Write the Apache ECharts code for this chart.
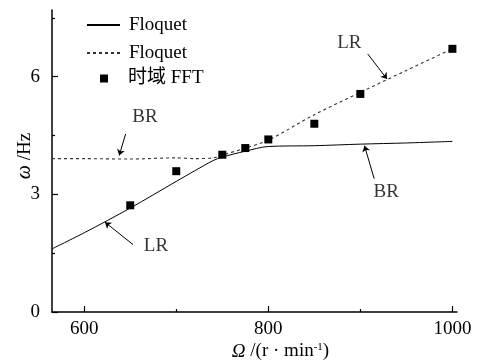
<!DOCTYPE html>
<html><head><meta charset="utf-8">
<script src="https://cdn.jsdelivr.net/npm/echarts@6/dist/echarts.min.js"></script>
<style>html,body{margin:0;padding:0;background:#fff}#c{width:479px;height:361px}</style>
</head><body><div id="c"></div>
<script>
// ---- data ----
const omega = [565, 600, 650, 700, 720, 740, 750, 775, 800, 850, 900, 950, 1000];
const floquetSolid = [1.61, 2.02, 2.65, 3.33, 3.60, 3.86, 3.95, 4.10, 4.22, 4.24, 4.28, 4.31, 4.35];
const floquetDashed = [3.91, 3.91, 3.90, 3.93, 3.91, 3.93, 4.00, 4.18, 4.38, 5.03, 5.60, 6.16, 6.71];
const fftOmega = [650, 700, 750, 775, 800, 850, 900, 1000];
const fftFreq = [2.72, 3.59, 4.01, 4.18, 4.40, 4.80, 5.56, 6.71];
const xTicks = [600, 800, 1000];
const xMinorTicks = [700, 900];
const yTicks = [0, 3, 6];
const yMinorTicks = [1.5, 4.5, 7.5];
const annotLabels = ['LR', 'BR', 'BR', 'LR'];
const annotTextAt = [[888, 6.86], [666, 4.96], [928, 3.05], [678, 1.67]];
const annotArrowFrom = [[908, 6.58], [645, 4.54], [915, 3.40], [653, 1.72]];
const annotArrowTo = [[929, 5.94], [638, 3.99], [904.5, 4.24], [622.5, 2.29]];

const FONT = '"Liberation Serif","Times New Roman","Noto Sans CJK SC",serif';
const zip = (a, b) => a.map((v, i) => [v, b[i]]);

const chart = echarts.init(document.getElementById('c'), null, {renderer: 'canvas'});
const axisLineStyle = {color: '#000', width: 1.5};
chart.setOption({
  animation: false,
  backgroundColor: '#fff',
  textStyle: {fontFamily: FONT},
  grid: {left: 52, right: 22, top: 10, bottom: 49, outerBoundsMode: 'none'},
  xAxis: [{
    type: 'value', min: 565, max: 1005,
    axisLine: {lineStyle: axisLineStyle},
    axisTick: {inside: true, length: 6, customValues: xTicks, lineStyle: {color: '#000', width: 1.2}},
    axisLabel: {customValues: xTicks, margin: 8, color: '#000', fontSize: 19, fontFamily: FONT, formatter: v => String(v)},
    splitLine: {show: false},
    name: '{i|Ω}{n| /(r · min}{s|-1}{n|)}',
    nameLocation: 'middle', nameGap: 30, nameMoveOverlap: false,
    nameTextStyle: {
      padding: [0, 0, 0, 52],
      rich: {
        i: {fontSize: 19, fontStyle: 'italic', fontFamily: FONT, color: '#000'},
        n: {fontSize: 19, fontFamily: FONT, color: '#000'},
        s: {fontSize: 11, fontFamily: FONT, color: '#000', verticalAlign: 'top'}
      }
    }
  }, {
    type: 'value', min: 565, max: 1005, position: 'bottom', gridIndex: 0,
    axisLine: {show: false},
    axisTick: {inside: true, length: 3, customValues: xMinorTicks, lineStyle: {color: '#000', width: 1.2}},
    axisLabel: {show: false}, splitLine: {show: false}
  }],
  yAxis: [{
    type: 'value', min: 0, max: 7.7,
    axisLine: {lineStyle: axisLineStyle},
    axisTick: {inside: true, length: 6, customValues: yTicks, lineStyle: {color: '#000', width: 1.2}},
    axisLabel: {customValues: yTicks, margin: 12, color: '#000', fontSize: 19, fontFamily: FONT, formatter: v => String(v)},
    splitLine: {show: false},
    name: '{i|ω}{n| /Hz}',
    nameLocation: 'middle', nameGap: 17, nameMoveOverlap: false,
    nameTextStyle: {
      padding: [0, 0, 0, 10],
      rich: {
        i: {fontSize: 20, fontStyle: 'italic', fontFamily: FONT, color: '#000'},
        n: {fontSize: 19, fontFamily: FONT, color: '#000'}
      }
    }
  }, {
    type: 'value', min: 0, max: 7.7, position: 'left', gridIndex: 0,
    axisLine: {show: false},
    axisTick: {inside: true, length: 3, customValues: yMinorTicks, lineStyle: {color: '#000', width: 1.2}},
    axisLabel: {show: false}, splitLine: {show: false}
  }],
  legend: [{
    data: ['Floquet1', 'Floquet2'],
    orient: 'vertical', left: 86, top: 15.5, padding: 0,
    itemWidth: 33, itemHeight: 8, itemGap: 9,
    itemStyle: {color: 'rgba(0,0,0,0)', borderColor: 'rgba(0,0,0,0)', borderWidth: 0, opacity: 0},
    formatter: () => 'Floquet',
    textStyle: {fontSize: 19, lineHeight: 19, fontFamily: FONT, color: '#000', padding: [0, 0, 0, 4]},
    selectedMode: false
  }, {
    data: ['时域 FFT'],
    orient: 'vertical', left: 100, top: 69, padding: 0,
    itemWidth: 8, itemHeight: 8, icon: 'rect',
    textStyle: {fontSize: 19, lineHeight: 19, fontFamily: FONT, color: '#000', padding: [0, 0, 0, 15]},
    selectedMode: false
  }],
  series: [{
    name: 'Floquet1', type: 'line', xAxisIndex: 0, yAxisIndex: 0,
    data: zip(omega, floquetSolid), showSymbol: false, symbol: 'none', smooth: 0.3,
    lineStyle: {color: '#000', width: 1}, itemStyle: {color: '#000'}
  }, {
    name: 'Floquet2', type: 'line', xAxisIndex: 0, yAxisIndex: 0,
    data: zip(omega, floquetDashed), showSymbol: false, symbol: 'none', smooth: 0.3,
    lineStyle: {color: '#333', width: 1.1, type: [3, 3]}, itemStyle: {color: '#333'}
  }, {
    name: '时域 FFT', type: 'scatter', xAxisIndex: 0, yAxisIndex: 0,
    data: zip(fftOmega, fftFreq), symbol: 'rect', symbolSize: 8,
    itemStyle: {color: '#000', opacity: 1}, z: 5
  }, {
    name: 'annot', type: 'scatter', xAxisIndex: 0, yAxisIndex: 0,
    data: annotTextAt.map((p, i) => ({value: p, name: annotLabels[i]})),
    symbolSize: 1, itemStyle: {color: 'rgba(0,0,0,0)'},
    label: {show: true, position: 'inside', formatter: p => p.name, fontSize: 19, fontFamily: FONT, color: '#000'},
    silent: true,
    markLine: {
      silent: true, symbol: ['none', 'arrow'], symbolSize: 6,
      label: {show: false},
      lineStyle: {color: '#000', width: 1, type: 'solid'},
      data: annotArrowFrom.map((p, i) => [{coord: p}, {coord: annotArrowTo[i]}])
    }
  }]
});
</script>
</body></html>
